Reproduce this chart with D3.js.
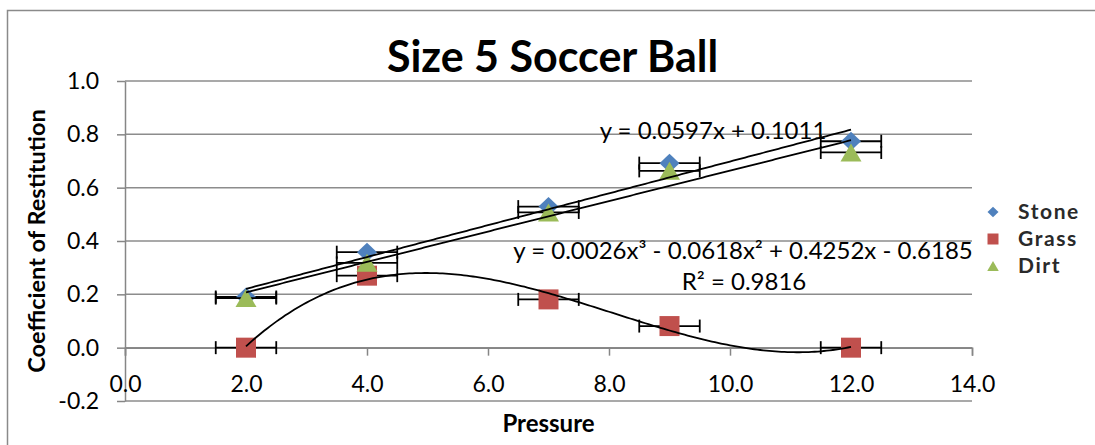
<!DOCTYPE html>
<html>
<head>
<meta charset="utf-8">
<script src="https://cdn.jsdelivr.net/npm/d3@7"></script>
<style>
  html, body { margin: 0; padding: 0; background: #fff; }
  svg { display: block; }
</style>
</head>
<body>
<svg id="chart" width="1095" height="445"></svg>
<script>
// Measured coefficient of restitution at each ball pressure, per surface
const pressure = [2, 4, 7, 9, 12];
const stone = [0.19, 0.358, 0.529, 0.692, 0.774];
const grass = [0.0, 0.27, 0.181, 0.081, 0.0];
const dirt = [0.186, 0.318, 0.507, 0.663, 0.732];
const pressureError = 0.5;

const seriesNames = ["Stone", "Grass", "Dirt"];
const xTickValues = [0, 2, 4, 6, 8, 10, 12, 14];
const yTickValues = [-0.2, 0, 0.2, 0.4, 0.6, 0.8, 1.0];

// Linear trend for Stone, as printed on the chart: intercept, slope
const stoneTrend = [0.1011, 0.0597];
const stoneTrendLabel = "y = 0.0597x + 0.1011";
const grassTrendLabel = "y = 0.0026x³ - 0.0618x² + 0.4252x - 0.6185";
const grassR2Label = "R² = 0.9816";

const titleText = "Size 5 Soccer Ball";
const xTitle = "Pressure";
const yTitle = "Coefficient of Restitution";

const colors = { Stone: "#4F81BD", Grass: "#C0504D", Dirt: "#9BBB59" };
const series = [
  { name: "Stone", values: stone },
  { name: "Grass", values: grass },
  { name: "Dirt", values: dirt }
];

// Least-squares polynomial fit, coefficients from constant term upwards
function polyfit(xs, ys, deg) {
  const n = deg + 1;
  const A = Array.from({ length: n }, () => new Array(n + 1).fill(0));
  for (let r = 0; r < n; r++) {
    for (let c = 0; c < n; c++) A[r][c] = d3.sum(xs, x => Math.pow(x, r + c));
    A[r][n] = d3.sum(xs, (x, i) => Math.pow(x, r) * ys[i]);
  }
  for (let i = 0; i < n; i++) {
    let p = i;
    for (let k = i + 1; k < n; k++) if (Math.abs(A[k][i]) > Math.abs(A[p][i])) p = k;
    [A[i], A[p]] = [A[p], A[i]];
    for (let k = i + 1; k < n; k++) {
      const f = A[k][i] / A[i][i];
      for (let j = i; j <= n; j++) A[k][j] -= f * A[i][j];
    }
  }
  const coef = new Array(n).fill(0);
  for (let i = n - 1; i >= 0; i--) {
    let s = A[i][n];
    for (let j = i + 1; j < n; j++) s -= A[i][j] * coef[j];
    coef[i] = s / A[i][i];
  }
  return coef;
}
const evalPoly = (coef, x) => coef.reduce((s, c, i) => s + c * Math.pow(x, i), 0);

const dirtTrend = polyfit(pressure, dirt, 1);
const grassTrend = polyfit(pressure, grass, 3);

const svg = d3.select("#chart");
const font = "Lato, 'Open Sans', sans-serif";

// Chart area frame
svg.append("rect")
  .attr("x", 7.5).attr("y", 10.5)
  .attr("width", 1100).attr("height", 450)
  .attr("fill", "#fff").attr("stroke", "#8a8a8a").attr("stroke-width", 1.5);

const plot = { left: 125, right: 972, top: 81, bottom: 401 };
const x = d3.scaleLinear().domain([0, 14]).range([plot.left, plot.right]);
const y = d3.scaleLinear().domain([-0.2, 1.0]).range([plot.bottom, plot.top]);

// Horizontal gridlines
svg.append("g")
  .selectAll("line")
  .data(yTickValues)
  .join("line")
  .attr("x1", plot.left).attr("x2", plot.right)
  .attr("y1", d => y(d)).attr("y2", d => y(d))
  .attr("stroke", "#8c8c8c").attr("stroke-width", 1.5);

// Vertical axis
const yAxis = svg.append("g")
  .attr("transform", `translate(${plot.left},0)`)
  .call(d3.axisLeft(y).tickValues(yTickValues).tickFormat(d3.format(".1f"))
    .tickSizeInner(8).tickSizeOuter(0).tickPadding(18));

// Horizontal axis crossing at zero
const xAxis = svg.append("g")
  .attr("transform", `translate(0,${y(0)})`)
  .call(d3.axisBottom(x).tickValues(xTickValues).tickFormat(d3.format(".1f"))
    .tickSizeInner(8).tickSizeOuter(8).tickPadding(20));

[yAxis, xAxis].forEach(g => {
  g.selectAll("path.domain").attr("stroke", "#868686").attr("stroke-width", 1.5);
  g.selectAll(".tick line").attr("stroke", "#868686").attr("stroke-width", 1.5);
  g.selectAll(".tick text")
    .attr("fill", "#000")
    .style("font-family", font)
    .style("font-size", "23px");
});
yAxis.selectAll(".tick text").text(d => d3.format(".1f")(d).replace("−", "-"));

// Marker shapes
function markerPath(name, s) {
  if (name === "Stone") return `M0,${-s * 0.95}L${s},0L0,${s * 0.95}L${-s},0Z`;
  if (name === "Grass") return `M${-s},${-s}L${s},${-s}L${s},${s}L${-s},${s}Z`;
  return `M0,${-s * 0.9}L${s * 1.05},${s * 0.9}L${-s * 1.05},${s * 0.9}Z`;
}

// Error bars and markers, series by series
series.forEach(s => {
  const g = svg.append("g").attr("class", "series-" + s.name);
  const pts = pressure.map((p, i) => ({ p, v: s.values[i] }));
  const eb = g.append("g").attr("stroke", "#000").attr("stroke-width", 1.8);
  eb.selectAll("line.bar").data(pts).join("line").attr("class", "bar")
    .attr("x1", d => x(d.p - pressureError)).attr("x2", d => x(d.p + pressureError))
    .attr("y1", d => y(d.v)).attr("y2", d => y(d.v));
  eb.selectAll("line.capL").data(pts).join("line").attr("class", "capL")
    .attr("x1", d => x(d.p - pressureError)).attr("x2", d => x(d.p - pressureError))
    .attr("y1", d => y(d.v) - 6.5).attr("y2", d => y(d.v) + 6.5);
  eb.selectAll("line.capR").data(pts).join("line").attr("class", "capR")
    .attr("x1", d => x(d.p + pressureError)).attr("x2", d => x(d.p + pressureError))
    .attr("y1", d => y(d.v) - 6.5).attr("y2", d => y(d.v) + 6.5);
  g.selectAll("path.marker").data(pts).join("path").attr("class", "marker")
    .attr("transform", d => `translate(${x(d.p)},${y(d.v)})`)
    .attr("d", markerPath(s.name, 10))
    .attr("fill", colors[s.name]);
});

// Trendlines
const xmin = d3.min(pressure), xmax = d3.max(pressure);
const samples = d3.range(0, 201).map(i => xmin + (xmax - xmin) * i / 200);
const line = d3.line().x(d => x(d[0])).y(d => y(d[1]));
[stoneTrend, dirtTrend, grassTrend].forEach(coef => {
  svg.append("path")
    .attr("d", line(samples.map(v => [v, evalPoly(coef, v)])))
    .attr("fill", "none").attr("stroke", "#000").attr("stroke-width", 1.8);
});

// Trendline labels
svg.append("text")
  .attr("x", 713).attr("y", 139)
  .attr("text-anchor", "middle")
  .style("font-family", font).style("font-size", "24px")
  .text(stoneTrendLabel);
svg.append("text")
  .attr("x", 743).attr("y", 259)
  .attr("text-anchor", "middle")
  .style("font-family", font).style("font-size", "24px")
  .text(grassTrendLabel);
svg.append("text")
  .attr("x", 744).attr("y", 290)
  .attr("text-anchor", "middle")
  .style("font-family", font).style("font-size", "24px")
  .text(grassR2Label);

// Titles
svg.append("text")
  .attr("x", 552.5).attr("y", 72)
  .attr("text-anchor", "middle")
  .style("font-family", font).style("font-size", "43px").style("font-weight", "bold")
  .text(titleText);
svg.append("text")
  .attr("x", x(7)).attr("y", 432)
  .attr("text-anchor", "middle")
  .style("font-family", font).style("font-size", "24px").style("font-weight", "bold")
  .text(xTitle);
svg.append("text")
  .attr("transform", "translate(45,241) rotate(-90)")
  .attr("text-anchor", "middle")
  .style("font-family", font).style("font-size", "23.5px").style("font-weight", "bold")
  .text(yTitle);

// Legend
const legend = svg.append("g").attr("transform", "translate(993,212)");
const items = legend.selectAll("g").data(seriesNames).join("g")
  .attr("transform", (d, i) => `translate(0,${i * 27})`);
items.append("path")
  .attr("d", d => markerPath(d, 5.5))
  .attr("fill", d => colors[d]);
items.append("text")
  .attr("x", 25).attr("dy", "0.35em")
  .style("font-family", font).style("font-size", "21px").style("font-weight", "bold")
  .style("letter-spacing", "1.6px")
  .attr("fill", "#2a2a2a")
  .text(d => d);
</script>
</body>
</html>
